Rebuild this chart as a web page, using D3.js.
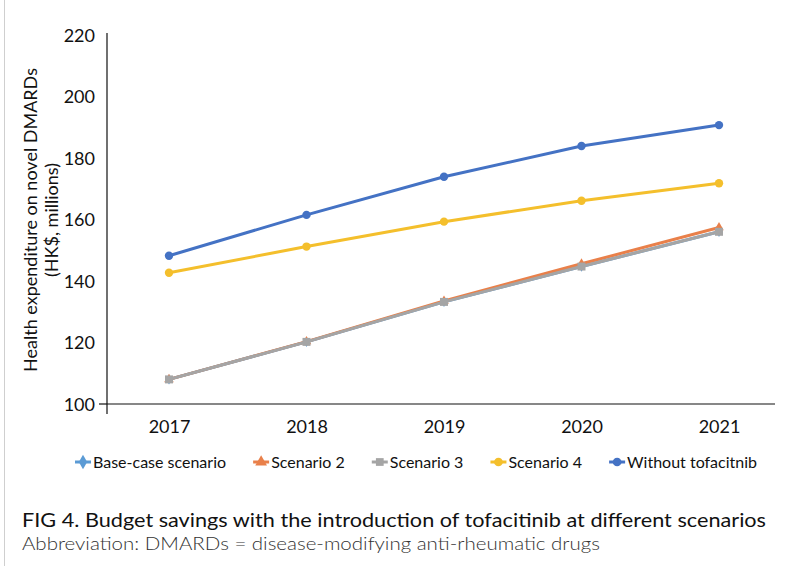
<!DOCTYPE html>
<html>
<head>
<meta charset="utf-8">
<script src="https://cdn.jsdelivr.net/npm/d3@7"></script>
<style>
  body { margin: 0; background: #fff; }
  svg text { font-family: Lato, "Open Sans", sans-serif; fill: #111; }
</style>
</head>
<body>
<svg id="chart" width="786" height="566"></svg>
<script>
// data
const years = ['2017', '2018', '2019', '2020', '2021'];
const baseCase = [108.0, 120.2, 133.2, 144.7, 156.0];
const scenario2 = [108.0, 120.3, 133.5, 145.6, 157.4];
const scenario3 = [108.0, 120.2, 133.2, 144.7, 156.0];
const scenario4 = [142.7, 151.2, 159.3, 166.1, 171.8];
const withoutTofa = [148.2, 161.5, 173.9, 183.9, 190.7];
const yTicks = [100, 120, 140, 160, 180, 200, 220];

const series = [
  { name: 'Base-case scenario', values: baseCase, color: '#5B9BD5', symbol: d3.symbolDiamond, size: 30 },
  { name: 'Scenario 2', values: scenario2, color: '#E9804A', symbol: d3.symbolTriangle, size: 40 },
  { name: 'Scenario 3', values: scenario3, color: '#A5A5A5', symbol: d3.symbolSquare, size: 64 },
  { name: 'Scenario 4', values: scenario4, color: '#F4BF2C', symbol: d3.symbolCircle, size: 55 },
  { name: 'Without tofacitnib', values: withoutTofa, color: '#4472C4', symbol: d3.symbolCircle, size: 55 }
];

const svg = d3.select('#chart');

// faint page border at left
svg.append('line')
  .attr('x1', 4.5).attr('x2', 4.5).attr('y1', 0).attr('y2', 566)
  .attr('stroke', '#cfcfcf').attr('stroke-width', 1);

const x = d3.scalePoint().domain(years).range([169, 719]);
const y = d3.scaleLinear().domain([100, 220]).range([404, 35]);

const axisX0 = 107, axisX1 = 775;

// y axis: labels only, line drawn by hand so it runs past the x axis
const yAxis = svg.append('g')
  .attr('transform', `translate(${axisX0},0)`)
  .call(d3.axisLeft(y).tickValues(yTicks).tickSize(0).tickPadding(12));
yAxis.select('.domain').remove();
yAxis.selectAll('text')
  .style('font-size', '18px')
  .attr('dy', '0.35em');

svg.append('line')
  .attr('x1', axisX0).attr('x2', axisX0)
  .attr('y1', y(220) - 2).attr('y2', y(100) + 10)
  .attr('stroke', '#111').attr('stroke-width', 1.2);
svg.append('line')
  .attr('x1', axisX0 - 8).attr('x2', axisX0)
  .attr('y1', y(100)).attr('y2', y(100))
  .attr('stroke', '#111').attr('stroke-width', 1.2);

// x axis
const xAxis = svg.append('g')
  .attr('transform', `translate(0,${y(100)})`)
  .call(d3.axisBottom(x).tickSize(0).tickPadding(16));
xAxis.select('.domain').remove();
xAxis.selectAll('text').style('font-size', '18px');
svg.append('line')
  .attr('x1', axisX0).attr('x2', axisX1)
  .attr('y1', y(100)).attr('y2', y(100))
  .attr('stroke', '#111').attr('stroke-width', 1.2);

// y axis title (two lines)
const title = svg.append('text')
  .attr('transform', 'translate(31,220) rotate(-90)')
  .attr('text-anchor', 'middle')
  .style('font-size', '18px');
title.append('tspan').attr('x', 0).attr('dy', '0.35em').text('Health expenditure on novel DMARDs');
title.append('tspan').attr('x', 0).attr('dy', '1.15em').text('(HK$, millions)');

// lines + markers
const line = d3.line().x((d, i) => x(years[i])).y(d => y(d));

series.forEach(s => {
  svg.append('path')
    .datum(s.values)
    .attr('d', line)
    .attr('fill', 'none')
    .attr('stroke', s.color)
    .attr('stroke-width', 3)
    .attr('stroke-linejoin', 'round');
  svg.selectAll(null)
    .data(s.values)
    .enter()
    .append('path')
    .attr('d', d3.symbol().type(s.symbol).size(s.size))
    .attr('transform', (d, i) => `translate(${x(years[i])},${y(d)})`)
    .attr('fill', s.color);
});

// legend, laid out left to right to span roughly 75..757
const legend = svg.append('g').attr('transform', 'translate(0,462)');
const items = series.map(s => {
  const g = legend.append('g');
  g.append('line')
    .attr('x1', -8).attr('x2', 8).attr('y1', 0).attr('y2', 0)
    .attr('stroke', s.color).attr('stroke-width', 3);
  g.append('path')
    .attr('d', d3.symbol().type(s.symbol).size(60))
    .attr('fill', s.color);
  const t = g.append('text')
    .attr('x', 10).attr('dy', '0.35em')
    .style('font-size', '16px')
    .text(s.name);
  return { g, w: 18 + t.node().getComputedTextLength() };
});
const legStart = 75, legEnd = 757;
const gap = (legEnd - legStart - d3.sum(items, d => d.w)) / (items.length - 1);
let cx = legStart;
items.forEach(it => {
  it.g.attr('transform', `translate(${cx + 8},0)`);
  cx += it.w + gap;
});

// caption
svg.append('text')
  .attr('x', 22).attr('y', 527)
  .style('font-size', '20px')
  .attr('textLength', 744).attr('lengthAdjust', 'spacingAndGlyphs')
  .text('FIG 4.  Budget savings with the introduction of tofacitinib at different scenarios');
svg.append('text')
  .attr('x', 22).attr('y', 550)
  .style('font-size', '18px').style('font-weight', 300).style('fill', '#333')
  .attr('textLength', 578).attr('lengthAdjust', 'spacingAndGlyphs')
  .text('Abbreviation: DMARDs = disease-modifying anti-rheumatic drugs');
</script>
</body>
</html>
